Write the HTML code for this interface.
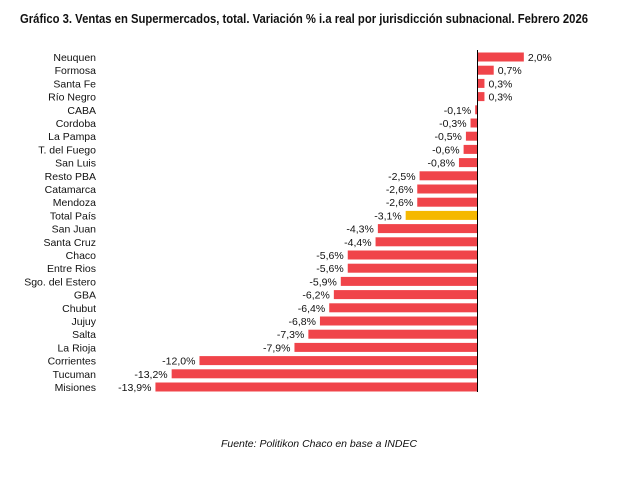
<!DOCTYPE html>
<html><head><meta charset="utf-8"><style>
body{margin:0;background:#fff;}
svg{display:block;font-family:"Liberation Sans",sans-serif;}
</style></head><body>
<svg width="638" height="483">
<text x="20" y="23" font-size="12.5" font-weight="bold" fill="#111" textLength="568" lengthAdjust="spacingAndGlyphs">Gráfico 3. Ventas en Supermercados, total. Variación % i.a real por jurisdicción subnacional. Febrero 2026</text>
<g id="bars"></g>
<line x1="477.5" y1="50" x2="477.5" y2="392" stroke="#000" stroke-width="1"/>
<text x="319" y="447" font-size="10.5" font-style="italic" fill="#111" text-anchor="middle">Fuente: Politikon Chaco en base a INDEC</text>
</svg>
<script>
const categories=["Neuquen","Formosa","Santa Fe","Río Negro","CABA","Cordoba","La Pampa","T. del Fuego","San Luis","Resto PBA","Catamarca","Mendoza","Total País","San Juan","Santa Cruz","Chaco","Entre Rios","Sgo. del Estero","GBA","Chubut","Jujuy","Salta","La Rioja","Corrientes","Tucuman","Misiones"];
const values=[2.0,0.7,0.3,0.3,-0.1,-0.3,-0.5,-0.6,-0.8,-2.5,-2.6,-2.6,-3.1,-4.3,-4.4,-5.6,-5.6,-5.9,-6.2,-6.4,-6.8,-7.3,-7.9,-12.0,-13.2,-13.9];
const labels=values.map(v=>v.toFixed(1).replace('.',',')+'%');
const x0=477.5, k=23.17;
const xs=v=>x0+v*k;
const ys=i=>57+i*13.2;
const g=document.getElementById('bars');
const NS='http://www.w3.org/2000/svg';
categories.forEach((c,i)=>{
  const v=values[i], y=ys(i);
  const t=document.createElementNS(NS,'text');
  t.setAttribute('x',96);t.setAttribute('y',y+4);t.setAttribute('text-anchor','end');
  t.setAttribute('font-size','10.5');t.setAttribute('fill','#111');t.textContent=c;
  
  
  g.appendChild(t);
  const r=document.createElementNS(NS,'rect');
  const a=Math.min(xs(v),x0), b=Math.max(xs(v),x0);
  r.setAttribute('x',a);r.setAttribute('y',y-4.5);r.setAttribute('width',b-a);r.setAttribute('height',9);
  r.setAttribute('fill',c==="Total País"?'#f5b800':'#f0444a');
  
  
  g.appendChild(r);
  const l=document.createElementNS(NS,'text');
  l.setAttribute('x',v<0?a-4:b+4);l.setAttribute('y',y+4);
  l.setAttribute('text-anchor',v<0?'end':'start');
  l.setAttribute('font-size','10.5');l.setAttribute('fill','#111');l.textContent=labels[i];
  
  
  g.appendChild(l);
});
</script>
</body></html>
